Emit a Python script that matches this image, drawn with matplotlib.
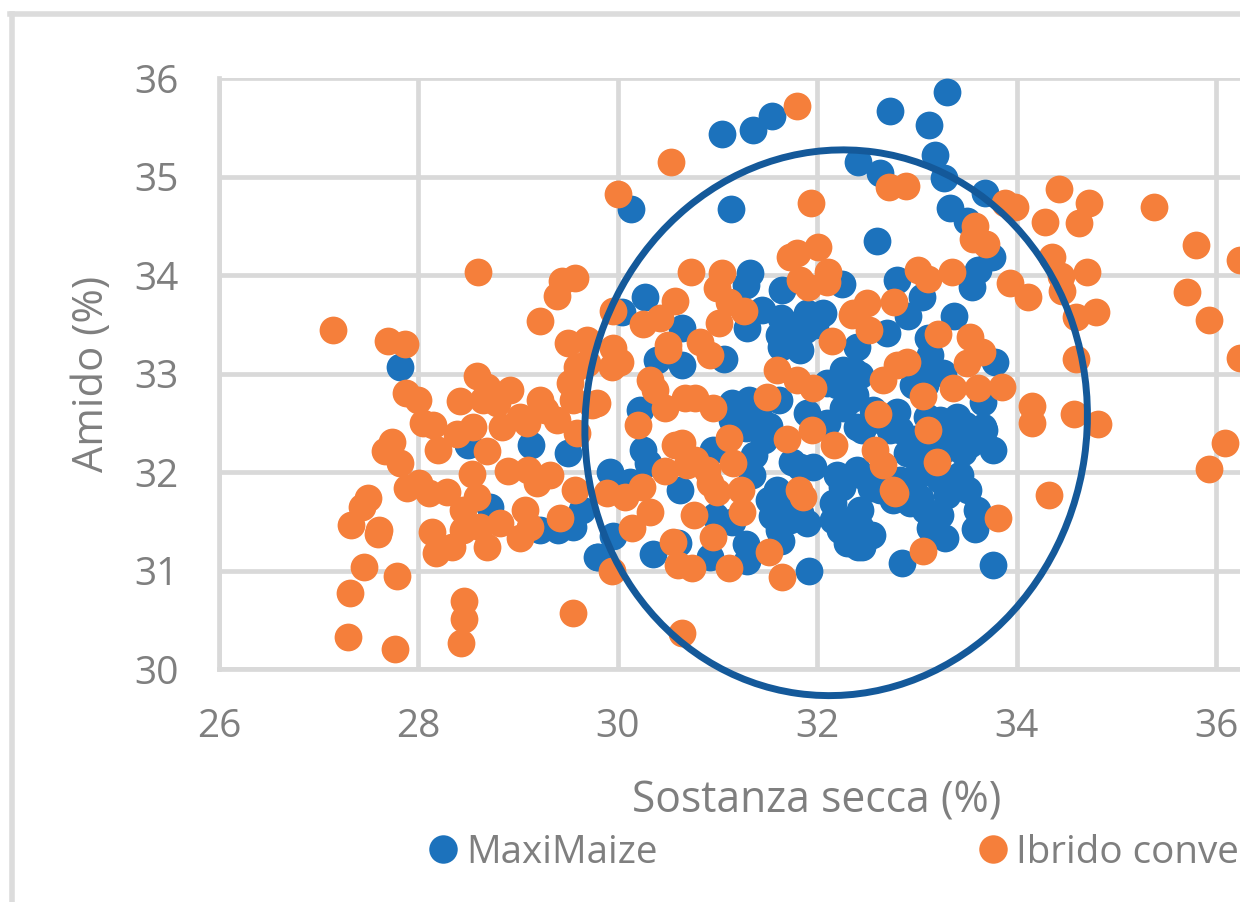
import matplotlib
matplotlib.use("Agg")
import matplotlib.pyplot as plt
from matplotlib.lines import Line2D
from matplotlib.patches import Ellipse

plt.rcParams['font.family'] = ['Open Sans', 'DejaVu Sans']

blue_x = [33.30,33.12,33.18,33.27,31.05,31.36,31.55,32.73,32.41,32.63,33.33,33.68,33.50,31.14,30.13,32.60,33.75,33.61,33.55,
30.27,30.04,30.64,30.39,30.64,31.07,31.33,31.29,31.65,31.45,31.64,31.30,31.90,32.06,32.25,31.80,31.64,31.83,32.26,32.10,32.40,31.15,31.32,31.15,31.42,31.62,31.90,32.10,32.26,32.40,30.22,
32.80,33.05,32.91,33.37,33.11,32.70,32.37,33.10,33.26,32.96,33.78,33.66,33.40,33.66,32.80,32.56,32.46,33.10,
30.25,30.30,29.92,30.12,30.62,30.95,31.35,31.52,31.73,31.29,31.45,31.15,30.97,31.29,31.30,31.64,31.92,30.35,30.60,30.92,29.95,29.80,31.75,31.96,32.20,32.16,32.30,32.41,32.40,31.83,31.60,31.55,
29.50,29.13,28.50,28.72,29.64,29.55,29.40,29.22,29.79,27.82,
32.85,33.76,32.45,32.73,32.90,33.46,33.76,33.67,33.34,32.44,32.54,33.51,33.30,33.60,33.58,33.28,33.13,33.03,32.76,32.93,32.45,32.55,32.33,32.43,32.23,32.98,
31.62,31.88,31.47,31.37,31.65,31.83,31.62,31.90,32.16,32.30,32.25,32.33,32.43,32.38,33.13,33.08,32.63,32.83,32.98,33.23,33.48,33.53,33.28,33.13,33.03,33.23,33.43,32.83,32.63,33.08,33.23,32.43,32.33,31.98,31.73,31.22,31.52,32.30,32.20]
blue_y = [35.86,35.52,35.22,34.98,35.43,35.47,35.61,35.67,35.15,35.04,34.68,34.83,34.55,34.67,34.67,34.35,34.18,34.05,33.88,
33.78,33.62,33.46,33.14,33.09,33.15,34.02,33.90,33.85,33.64,33.56,33.46,33.61,33.61,33.91,33.34,33.27,33.24,33.04,32.90,33.27,32.70,32.73,32.53,32.56,32.73,32.60,32.50,32.65,32.46,32.63,
33.95,33.78,33.58,33.58,33.36,33.41,33.03,33.04,33.01,32.88,33.12,32.71,32.56,32.46,32.61,32.63,32.46,32.56,
32.22,32.09,32.00,31.90,31.82,32.22,31.97,31.72,31.51,32.45,32.46,31.49,31.55,31.27,31.10,31.30,31.00,31.17,31.28,31.14,31.35,31.14,32.10,32.05,31.97,31.69,31.28,31.24,32.02,31.58,31.82,31.55,
32.19,32.27,32.27,31.64,31.61,31.44,31.41,31.41,31.14,33.07,
31.08,31.06,32.43,32.43,32.19,32.20,32.22,32.43,32.40,31.97,31.84,31.82,31.77,31.61,31.42,31.33,31.43,31.74,31.72,31.69,31.24,31.36,31.28,31.44,31.41,31.95,
33.39,33.44,32.32,32.17,31.64,32.05,31.41,31.48,31.51,31.41,31.85,32.73,32.98,32.78,33.19,32.88,32.53,32.43,32.33,32.53,32.48,32.28,32.23,32.18,31.98,31.92,31.97,31.92,31.82,31.61,31.56,31.61,31.51,33.49,33.49,32.63,32.47,32.95,32.88]

orange_x = [27.14,27.70,27.87,27.88,28.00,28.05,28.15,28.20,28.42,28.59,28.69,28.92,28.65,28.79,28.55,28.39,28.69,28.84,29.02,29.22,29.27,29.09,29.39,29.55,29.59,29.74,29.52,29.59,29.69,29.50,29.69,
27.74,27.66,27.82,27.89,28.01,28.11,28.29,28.54,28.59,28.45,28.90,29.10,29.32,29.57,29.19,29.07,29.42,29.12,29.02,28.82,28.62,28.69,28.14,28.18,28.34,28.45,
27.49,27.43,27.32,27.60,27.59,27.45,27.79,27.31,27.29,27.77,28.46,28.46,28.43,29.55,29.94,29.89,
29.95,30.73,31.05,30.57,30.99,31.12,31.27,30.42,30.25,30.50,30.50,31.02,30.82,30.92,29.95,30.02,29.94,30.32,30.37,30.47,30.67,30.77,30.95,31.50,31.60,31.80,31.96,32.15,30.20,29.79,31.73,32.01,31.80,31.83,32.10,32.11,31.91,32.36,
33.56,33.69,33.58,33.93,34.11,34.36,34.45,34.46,34.71,34.60,34.80,34.60,33.01,33.11,33.35,32.77,32.50,32.35,32.52,33.21,33.53,33.65,33.50,32.90,32.80,32.66,33.06,33.36,33.61,33.85,32.61,33.11,34.15,34.15,34.58,34.82,
34.28,34.63,33.88,33.98,34.43,34.73,35.38,35.80,36.24,35.71,35.93,36.24,36.09,35.93,34.32,31.80,30.53,30.00,31.94,32.72,32.89,28.60,29.57,29.44,29.39,29.22,
30.57,30.64,30.47,30.69,30.77,30.89,30.99,30.92,31.24,31.25,31.12,31.16,31.70,31.95,32.17,31.82,31.86,30.76,30.95,31.52,31.65,31.12,30.74,30.60,30.55,30.07,30.24,30.32,30.14,30.64,
32.58,32.66,32.76,32.78,33.81,33.06,33.20]
orange_y = [33.44,33.33,33.30,32.80,32.73,32.50,32.48,32.22,32.72,32.97,32.86,32.83,32.73,32.70,32.46,32.39,32.21,32.46,32.56,32.73,32.63,32.50,32.53,32.73,32.40,32.68,32.90,33.07,33.11,33.31,33.34,
32.30,32.21,32.09,31.84,31.89,31.79,31.80,31.98,31.75,31.61,32.01,32.02,31.97,31.82,31.89,31.61,31.53,31.44,31.33,31.48,31.44,31.24,31.39,31.18,31.24,31.41,
31.74,31.64,31.46,31.41,31.37,31.04,30.94,30.77,30.32,30.20,30.69,30.51,30.26,30.57,31.00,31.79,
33.63,34.03,34.02,33.74,33.87,33.73,33.63,33.56,33.50,33.29,33.24,33.51,33.32,33.19,33.26,33.12,33.07,32.93,32.83,32.65,32.75,32.75,32.65,32.76,33.04,32.93,32.85,33.33,32.48,32.70,34.18,34.28,34.22,33.95,33.93,34.03,33.88,33.61,
34.37,34.31,34.50,33.92,33.78,34.18,33.99,33.84,34.03,33.57,33.62,33.15,34.05,33.96,34.03,33.73,33.72,33.59,33.44,33.40,33.37,33.22,33.11,33.12,33.09,32.93,32.77,32.85,32.85,32.86,32.59,32.43,32.67,32.50,32.59,32.49,
34.54,34.53,34.73,34.69,34.87,34.73,34.69,34.30,34.15,33.83,33.54,33.16,32.29,32.03,31.77,35.72,35.15,34.82,34.73,34.89,34.90,34.03,33.97,33.94,33.79,33.53,
32.27,32.29,32.01,32.07,32.12,32.02,31.80,31.89,31.82,31.59,32.35,32.09,32.34,32.43,32.27,31.82,31.75,31.56,31.34,31.19,30.93,31.03,31.03,31.06,31.29,31.75,31.85,31.59,31.43,30.37,
32.22,32.07,31.82,31.79,31.53,31.20,32.10]

x_ticks = [26, 28, 30, 32, 34, 36]
y_ticks = [30, 31, 32, 33, 34, 35, 36]
x_label = "Sostanza secca (%)"
y_label = "Amido (%)"
series_names = ["MaxiMaize", "Ibrido conve"]
ring_center = (32.19, 32.5)
ring_size = (5.03, 5.55)

W, H = 1240, 902
BLUE = "#1C72BC"; ORANGE = "#F57F3B"; GRID = "#D9D9D9"; TXT = "#7F7F7F"
fig = plt.figure(figsize=(W/100, H/100), dpi=100)
ax = fig.add_axes([219/W, 1-669/H, (W-219)/W, (669-78)/H])
ax.set_xlim(26, 26+(W-219)/99.7)
ax.set_ylim(30, 36)

ax.grid(True, color=GRID, lw=3.4, zorder=0)
ax.set_axisbelow(True)
for s in ("top", "right"):
    ax.spines[s].set_visible(False)
for s in ("left", "bottom"):
    ax.spines[s].set_color(GRID); ax.spines[s].set_linewidth(3.4)
ax.set_xticks(x_ticks); ax.set_yticks(y_ticks)
ax.tick_params(length=0, labelsize=28, labelcolor=TXT)
ax.tick_params(axis='x', pad=28)
ax.tick_params(axis='y', pad=29)

MS = 400
ax.scatter(blue_x, blue_y, s=MS, color=BLUE, lw=0, zorder=3)
ax.scatter(orange_x, orange_y, s=MS, color=ORANGE, lw=0, zorder=4)
ax.add_patch(Ellipse(ring_center, ring_size[0], ring_size[1], angle=-8, fill=False,
                     ec="#14599A", lw=5, zorder=5, clip_on=False))

fig.text(817/W, 1-801/H, x_label, color=TXT, fontsize=30.7, ha='center', va='center')
fig.text(92/W, 1-374/H, y_label, color=TXT, fontsize=30, rotation=90, ha='center', va='center')

fig.add_artist(Line2D([12/W, 12/W], [0, 1-14/H], color="#DCDCDC", lw=4))
fig.add_artist(Line2D([10/W, 1], [1-14/H, 1-14/H], color="#DCDCDC", lw=4))

handles = [Line2D([], [], ls='', marker='o', ms=20.5, color=BLUE, mew=0),
           Line2D([], [], ls='', marker='o', ms=20.5, color=ORANGE, mew=0)]
ax.legend(handles, series_names, ncol=2, frameon=False, loc='center left',
          bbox_to_anchor=(420/W, 1-853/H), bbox_transform=fig.transFigure,
          fontsize=27.8, labelcolor=TXT, handletextpad=-0.01, columnspacing=8.1,
          borderpad=0, borderaxespad=0, handlelength=1.2)
fig.savefig("out.png", dpi=100)
